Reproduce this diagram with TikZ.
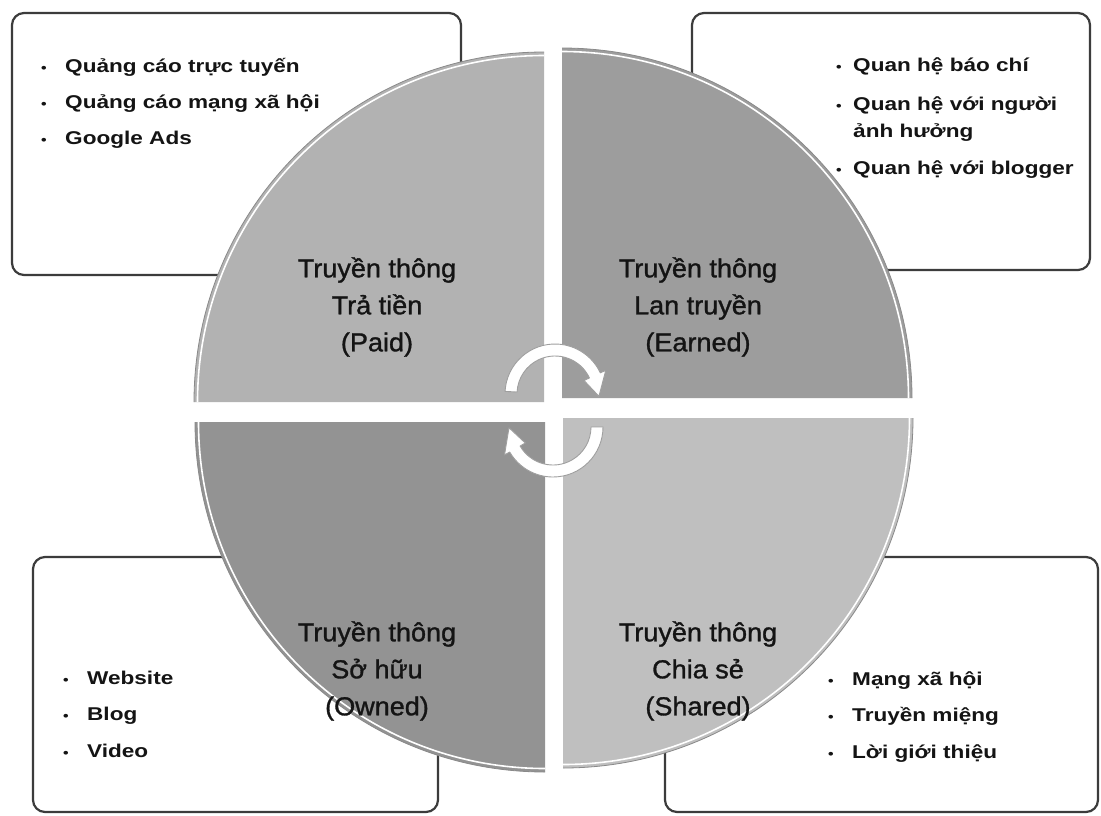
\documentclass[tikz,border=0pt]{standalone}
\usepackage{fontspec}
\setmainfont{Liberation Sans}
\newfontfamily\listfont[FakeStretch=1.22]{Liberation Sans Bold}
\newfontfamily\quadfont[FakeStretch=1.04, FakeBold=1.2]{Liberation Sans}
\definecolor{PaidFill}{HTML}{B2B2B2}
\definecolor{EarnedFill}{HTML}{9D9D9D}
\definecolor{OwnedFill}{HTML}{939393}
\definecolor{SharedFill}{HTML}{BFBFBF}
\definecolor{Frame}{HTML}{3C3C3C}
\definecolor{Ink}{HTML}{141414}
\definecolor{Rim}{HTML}{8A8A8A}
\newcommand{\bul}[1]{\makebox[#1][l]{\fontsize{13}{13}\selectfont •}}
\tikzset{
    listbox/.style={rectangle, rounded corners=12pt, draw=Frame, line width=2.2pt, fill=white},
    item/.style={anchor=base west, inner sep=0pt, text=Ink, font=\listfont\fontsize{18.5}{22}\selectfont},
    quadlabel/.style={align=center, inner sep=0pt, text=Ink, font=\quadfont\fontsize{26}{37}\selectfont},
    rimedge/.style={draw=Rim, line width=0.8pt},
    rimlight/.style={draw=white, line width=1.6pt},
    cyclearrow/.style={fill=white, draw=gray!75, line width=0.9pt, line join=round},
}
\begin{document}
\begin{tikzpicture}[x=1pt, y=-1pt]
    \fill[white] (0,0) rectangle (1101,815);
    \useasboundingbox (0,0) rectangle (1101,815);

    \node[listbox, minimum width=449pt, minimum height=262pt] (paidbox) at (236.5,144) {};
    \node[listbox, minimum width=398pt, minimum height=257pt] (earnedbox) at (891,141.5) {};
    \node[listbox, minimum width=405pt, minimum height=255pt] (ownedbox) at (235.5,684.5) {};
    \node[listbox, minimum width=433pt, minimum height=255pt] (sharedbox) at (881.5,684.5) {};

    \foreach \cx/\cy/\a/\c in {544/402/180/PaidFill, 562/398/270/EarnedFill, 563/418/0/SharedFill, 545/422/90/OwnedFill} {
        \fill[\c] (\cx,\cy) -- ++(\a:350) arc[start angle=\a, end angle=\a+90, radius=350] -- cycle;
        \draw[rimedge] (\cx,\cy) ++(\a:350) arc[start angle=\a, end angle=\a+90, radius=350];
        \draw[rimlight] (\cx,\cy) ++(\a:346.5) arc[start angle=\a, end angle=\a+90, radius=346.5];
    }

    \node[quadlabel] (paid) at (377,307) {Truyền thông\\Trả tiền\\(Paid)};
    \node[quadlabel] (earned) at (698,307) {Truyền thông\\Lan truyền\\(Earned)};
    \node[quadlabel] (owned) at (377,671) {Truyền thông\\Sở hữu\\(Owned)};
    \node[quadlabel] (shared) at (698,671) {Truyền thông\\Chia sẻ\\(Shared)};

    \begin{scope}[shift={(555,394)}]
        \filldraw[cyclearrow] (183:50) arc[start angle=183, end angle=335, radius=50] -- (335:56) -- (3:44) -- (335:32) -- (335:38) arc[start angle=335, end angle=183, radius=38] -- cycle;
    \end{scope}
    \begin{scope}[shift={(553,427)}]
        \filldraw[cyclearrow] (0:50) arc[start angle=0, end angle=150, radius=50] -- (150:56) -- (179:44) -- (150:32) -- (150:38) arc[start angle=150, end angle=0, radius=38] -- cycle;
    \end{scope}

    \foreach \txt [count=\i] in {Quảng cáo trực tuyến, Quảng cáo mạng xã hội, Google Ads}
        \node[item] (paid\i) at (41,36.5+36*\i) {\bul{24pt}\txt};
    \node[item] (earned1) at (836,71) {\bul{17pt}Quan hệ báo chí};
    \node[item] (earned2) at (836,110) {\bul{17pt}Quan hệ với người};
    \node[item] (earned3) at (853,137) {ảnh hưởng};
    \node[item] (earned4) at (836,174) {\bul{17pt}Quan hệ với blogger};
    \foreach \txt [count=\i] in {Website, Blog, Video}
        \node[item] (owned\i) at (63,647.5+36.5*\i) {\bul{24pt}\txt};
    \foreach \txt [count=\i] in {Mạng xã hội, Truyền miệng, Lời giới thiệu}
        \node[item] (shared\i) at (828,648.5+36.5*\i) {\bul{24pt}\txt};
\end{tikzpicture}
\end{document}
